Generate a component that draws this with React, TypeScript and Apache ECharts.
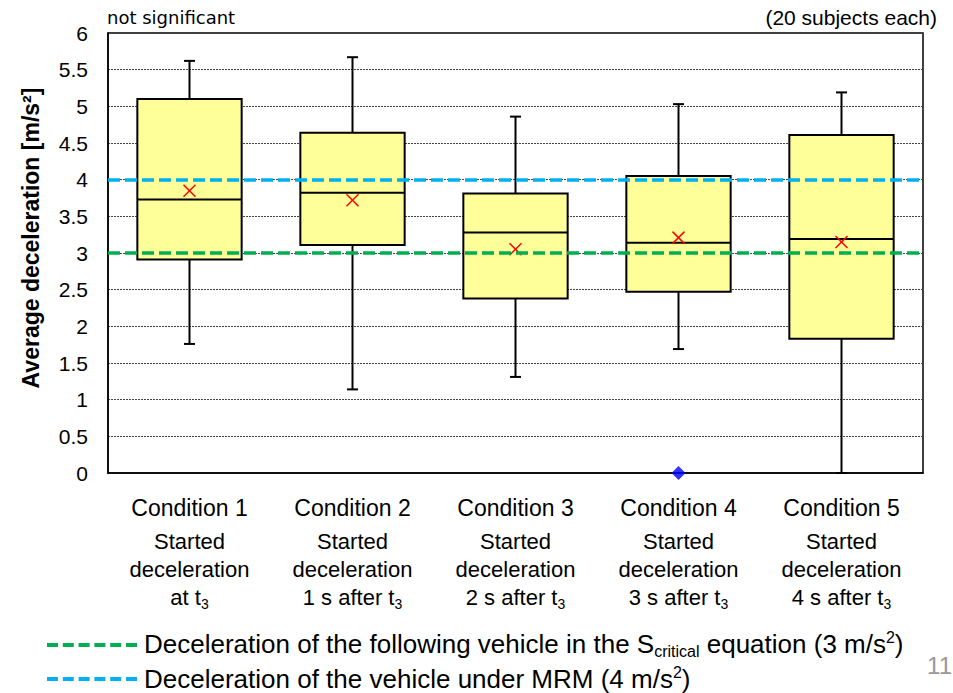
import React, { useEffect, useRef } from "react";
import * as echarts from "echarts";

const categories = ["Condition 1", "Condition 2", "Condition 3", "Condition 4", "Condition 5"];
const descriptions = [
  "Started\ndeceleration\nat t{sub|3}",
  "Started\ndeceleration\n1 s after t{sub|3}",
  "Started\ndeceleration\n2 s after t{sub|3}",
  "Started\ndeceleration\n3 s after t{sub|3}",
  "Started\ndeceleration\n4 s after t{sub|3}",
];
const whiskerLow = [1.76, 1.14, 1.31, 1.69, 0];
const q1 = [2.91, 3.11, 2.38, 2.47, 1.83];
const median = [3.73, 3.82, 3.28, 3.14, 3.19];
const q3 = [5.1, 4.64, 3.81, 4.05, 4.61];
const whiskerHigh = [5.62, 5.67, 4.86, 5.03, 5.19];
const mean = [3.85, 3.72, 3.05, 3.21, 3.15];
const outliers: [number, number][] = [[3, 0]];
const refFollowing = 3;
const refMRM = 4;

const GREEN = "#00B050";
const BLUE = "#00B0F0";

export default function App() {
  const ref = useRef<HTMLDivElement>(null);
  useEffect(() => {
    if (!ref.current) return;
    const chart = echarts.init(ref.current, undefined, { renderer: "svg" });
    const boxData = categories.map((_, i) => [
      i,
      whiskerLow[i],
      q1[i],
      median[i],
      q3[i],
      whiskerHigh[i],
      mean[i],
    ]);
    const option: any = {
      animation: false,
      backgroundColor: "#fff",
      grid: {
        left: 108,
        right: 30,
        top: 33,
        bottom: 220,
        show: true,
        borderColor: "#000",
        borderWidth: 1.5,
        backgroundColor: "transparent",
      },
      xAxis: {
        type: "category",
        data: categories,
        boundaryGap: true,
        axisLine: { lineStyle: { color: "#000", width: 1.5 } },
        axisTick: { show: false },
        splitLine: { show: false },
        axisLabel: {
          interval: 0,
          margin: 16,
          fontFamily: "Liberation Sans",
          fontSize: 22,
          lineHeight: 28,
          color: "#000",
          formatter: (v: string, i: number) => `{c|${v}}\n${descriptions[i]}`,
          rich: {
            c: { fontSize: 23, lineHeight: 38, fontFamily: "Liberation Sans", color: "#000" },
            sub: {
              fontSize: 14,
              lineHeight: 14,
              verticalAlign: "bottom",
              fontFamily: "Liberation Sans",
              color: "#000",
            },
          },
        },
      },
      yAxis: {
        type: "value",
        min: 0,
        max: 6,
        interval: 0.5,
        axisLine: { show: true, lineStyle: { color: "#000", width: 1.5 } },
        axisTick: { show: false },
        axisLabel: {
          margin: 20,
          fontFamily: "Liberation Sans",
          fontSize: 21,
          color: "#000",
        },
        splitLine: { show: true, lineStyle: { color: "#444", type: [2, 1], width: 1 } },
      },
      series: [
        {
          type: "line",
          data: [],
          z: 1,
          silent: true,
          markLine: {
            silent: true,
            symbol: ["none", "none"],
            label: { show: false },
            data: [
              { yAxis: refFollowing, lineStyle: { color: GREEN, width: 3.5, type: [12, 5] } },
              { yAxis: refMRM, lineStyle: { color: BLUE, width: 3.5, type: [12, 5] } },
            ],
          },
        },
        {
          type: "custom",
          z: 3,
          data: boxData,
          encode: { x: 0, y: [1, 2, 3, 4, 5, 6] },
          renderItem: (params: any, api: any) => {
            const i = api.value(0);
            const pLo = api.coord([i, api.value(1)]);
            const pQ1 = api.coord([i, api.value(2)]);
            const pMed = api.coord([i, api.value(3)]);
            const pQ3 = api.coord([i, api.value(4)]);
            const pHi = api.coord([i, api.value(5)]);
            const pMean = api.coord([i, api.value(6)]);
            const band = api.size([1, 0])[0];
            const bw = band * 0.64;
            const cx = pLo[0];
            const cap = 5.5;
            const xs = 6;
            const black = { stroke: "#000", lineWidth: 2 };
            return {
              type: "group",
              children: [
                { type: "line", shape: { x1: cx, y1: pLo[1], x2: cx, y2: pQ1[1] }, style: black },
                { type: "line", shape: { x1: cx, y1: pQ3[1], x2: cx, y2: pHi[1] }, style: black },
                { type: "line", shape: { x1: cx - cap, y1: pLo[1], x2: cx + cap, y2: pLo[1] }, style: black },
                { type: "line", shape: { x1: cx - cap, y1: pHi[1], x2: cx + cap, y2: pHi[1] }, style: black },
                {
                  type: "rect",
                  shape: { x: cx - bw / 2, y: pQ3[1], width: bw, height: pQ1[1] - pQ3[1] },
                  style: { fill: "#FFFF99", stroke: "#000", lineWidth: 2 },
                },
                {
                  type: "line",
                  shape: { x1: cx - bw / 2, y1: pMed[1], x2: cx + bw / 2, y2: pMed[1] },
                  style: black,
                },
                {
                  type: "line",
                  shape: { x1: cx - xs, y1: pMean[1] - xs, x2: cx + xs, y2: pMean[1] + xs },
                  style: { stroke: "#FF0000", lineWidth: 1.5 },
                },
                {
                  type: "line",
                  shape: { x1: cx - xs, y1: pMean[1] + xs, x2: cx + xs, y2: pMean[1] - xs },
                  style: { stroke: "#FF0000", lineWidth: 1.5 },
                },
              ],
            };
          },
        },
        {
          type: "scatter",
          z: 5,
          clip: false,
          data: outliers,
          symbol: "diamond",
          symbolSize: 14,
          itemStyle: { color: "#0000FF" },
        },
      ],
      graphic: [
        {
          type: "text",
          x: 31,
          y: 238,
          rotation: Math.PI / 2,
          style: {
            text: "Average deceleration [m/s²]",
            fontFamily: "Liberation Sans",
            fontWeight: "bold",
            fontSize: 23,
            fill: "#000",
            textAlign: "center",
            textVerticalAlign: "middle",
          },
        },
        {
          type: "text",
          x: 107,
          y: 17,
          style: {
            text: "not significant",
            fontFamily: "DejaVu Sans",
            fontSize: 18,
            fill: "#000",
            textAlign: "left",
            textVerticalAlign: "middle",
          },
        },
        {
          type: "text",
          x: 937,
          y: 17,
          style: {
            text: "(20 subjects each)",
            fontFamily: "Liberation Sans",
            fontSize: 21,
            fill: "#000",
            textAlign: "right",
            textVerticalAlign: "middle",
          },
        },
        {
          type: "line",
          shape: { x1: 47, y1: 645, x2: 137, y2: 645 },
          style: { stroke: GREEN, lineWidth: 4, lineDash: [11, 4.8] },
        },
        {
          type: "line",
          shape: { x1: 47, y1: 679, x2: 137, y2: 679 },
          style: { stroke: BLUE, lineWidth: 4, lineDash: [11, 4.8] },
        },
        {
          type: "text",
          x: 144,
          y: 644,
          style: {
            text: "Deceleration of the following vehicle in the S{sub|critical} equation (3 m/s{sup|2})",
            fontFamily: "Liberation Sans",
            fontSize: 26,
            lineHeight: 30,
            fill: "#000",
            textAlign: "left",
            textVerticalAlign: "middle",
            rich: {
              sub: { fontSize: 16, lineHeight: 16, verticalAlign: "bottom", fontFamily: "Liberation Sans", fill: "#000" },
              sup: { fontSize: 16, lineHeight: 16, verticalAlign: "top", fontFamily: "Liberation Sans", fill: "#000" },
            },
          },
        },
        {
          type: "text",
          x: 144,
          y: 679,
          style: {
            text: "Deceleration of the vehicle under MRM (4 m/s{sup|2})",
            fontFamily: "Liberation Sans",
            fontSize: 26,
            lineHeight: 30,
            fill: "#000",
            textAlign: "left",
            textVerticalAlign: "middle",
            rich: {
              sup: { fontSize: 16, lineHeight: 16, verticalAlign: "top", fontFamily: "Liberation Sans", fill: "#000" },
            },
          },
        },
        {
          type: "text",
          x: 952,
          y: 665,
          style: {
            text: "11",
            fontFamily: "Liberation Sans",
            fontSize: 24,
            fill: "#999",
            textAlign: "right",
            textVerticalAlign: "middle",
          },
        },
      ],
    };
    chart.setOption(option);
    return () => chart.dispose();
  }, []);
  return <div ref={ref} style={{ width: 953, height: 693, position: "absolute", left: 0, top: 0 }} />;
}
